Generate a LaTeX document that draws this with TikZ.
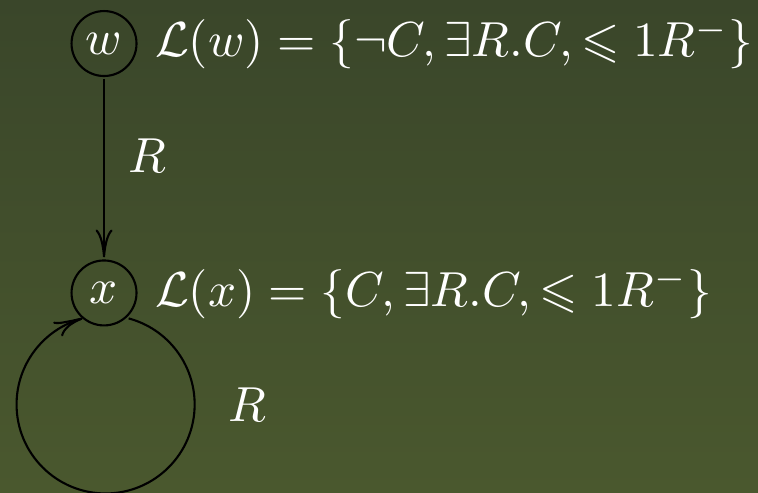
\documentclass[tikz,border=0pt]{standalone}
\usepackage{amssymb}
\usetikzlibrary{positioning,arrows.meta,bending}
\definecolor{slidetop}{RGB}{58,70,42}
\definecolor{slidebot}{RGB}{74,88,46}

\begin{document}
\begin{tikzpicture}[scale=2.8, transform shape, line width=1.2pt,
  world/.style={circle, draw=black, minimum size=0.464cm, inner sep=0pt, text=white},
  tagtext/.style={text=white, inner sep=0pt},
  >={To[length=0.56cm,width=0.34cm]}]
  \shade[top color=slidetop, bottom color=slidebot] (0,0) rectangle (5.414,3.521);
  \useasboundingbox (0,0) rectangle (5.414,3.521);
  % the two worlds
  \node[world] (w) at (0.743,3.21) {$w$};
  \node[world] (x) at (0.743,1.4286) {$x$};
  \node[tagtext, right=0.09cm of w] (lw) {$\mathcal{L}(w) = \{\neg C, \exists R.C, \leqslant 1 R^{-}\}$};
  \node[tagtext, right=0.09cm of x] (lx) {$\mathcal{L}(x) = \{C, \exists R.C, \leqslant 1 R^{-}\}$};
  % R-edges
  \draw[->] (w) -- node[tagtext, pos=.43, right=0.155cm] {$R$} (x);
  \draw[-{To[length=0.56cm,width=0.34cm,bend]}] (x.-46) arc[start angle=75, end angle=0, radius=0.636cm]
     node[tagtext, right=0.22cm] {$R$}
     arc[start angle=0, end angle=-255, radius=0.636cm];
\end{tikzpicture}
\end{document}
